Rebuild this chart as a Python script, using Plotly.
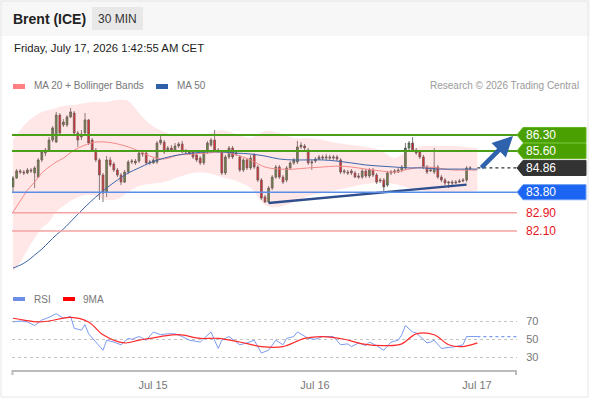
import plotly.graph_objects as go

# --- 30-min candles (index 0 = first bar on screen) ---
opens = [84.03, 84.42, 84.73, 84.68, 84.64, 84.77, 84.64, 84.46, 85.21, 85.51,
         85.64, 86.08, 85.99, 87.17, 86.74, 86.74, 87.09, 87.26, 86.39, 86.21,
         86.39, 86.96, 86.08, 85.64, 85.21, 84.55, 83.81, 85.21, 85.03, 84.77,
         84.55, 84.24, 84.68, 85.12, 85.08, 85.16, 85.51, 85.51, 85.08, 85.08,
         85.12, 85.95, 85.99, 85.64, 85.73, 85.64, 85.82, 85.91, 85.60, 85.56,
         85.56, 85.43, 85.29, 85.08, 85.56, 85.86, 86.08, 85.64, 85.56, 84.64,
         85.34, 85.73, 85.47, 85.34, 84.77, 85.21, 84.86, 85.43, 84.90, 84.33,
         83.59, 83.37, 83.98, 84.46, 84.90, 84.46, 84.33, 84.86, 85.08, 85.12,
         85.78, 85.82, 85.64, 85.08, 85.16, 85.25, 85.34, 85.29, 85.34, 85.29,
         85.34, 85.21, 84.68, 84.68, 84.73, 84.64, 84.51, 84.46, 84.73, 84.51,
         84.77, 84.55, 84.29, 84.33, 84.11, 84.64, 84.68, 84.68, 84.77, 84.86,
         85.73, 85.95, 85.64, 85.56, 85.34, 84.90, 84.73, 84.68, 84.90, 84.46,
         84.33, 84.20, 84.24, 84.20, 84.24, 84.29, 84.33, 84.84]
highs = [84.51, 84.81, 84.81, 84.77, 84.86, 84.86, 84.94, 85.29, 85.64, 85.73,
         86.21, 86.69, 87.31, 87.26, 87.00, 87.17, 87.48, 87.35, 86.48, 86.52,
         87.26, 87.00, 86.17, 85.73, 85.29, 84.64, 85.38, 85.34, 85.12, 84.86,
         84.64, 84.77, 85.21, 85.25, 85.25, 85.60, 85.60, 85.60, 85.21, 85.29,
         86.04, 86.30, 86.08, 85.82, 85.86, 85.95, 85.99, 86.04, 85.69, 85.64,
         85.64, 85.51, 85.38, 85.64, 86.04, 86.17, 86.52, 85.73, 85.64, 85.43,
         85.82, 85.82, 85.60, 85.43, 85.29, 85.29, 85.43, 85.51, 84.99, 84.42,
         83.68, 84.07, 84.55, 84.99, 84.99, 84.55, 84.94, 85.16, 85.29, 86.04,
         85.99, 85.91, 85.73, 85.21, 85.34, 85.43, 85.43, 85.47, 85.43, 85.43,
         85.43, 85.29, 84.81, 84.77, 84.81, 84.73, 84.64, 84.81, 84.81, 84.86,
         84.86, 84.64, 84.42, 84.42, 84.73, 84.77, 84.81, 84.86, 84.99, 85.95,
         86.04, 86.21, 85.73, 85.64, 85.43, 84.99, 84.90, 85.73, 84.99, 84.55,
         84.42, 84.29, 84.33, 84.33, 84.38, 84.42, 84.94, 84.94]
lows = [83.76, 84.38, 84.59, 84.55, 84.59, 84.64, 83.98, 84.42, 85.12, 85.38,
        85.60, 85.99, 85.95, 86.30, 86.65, 86.65, 87.04, 86.34, 85.78, 86.08,
        86.30, 85.86, 85.56, 85.12, 83.46, 83.37, 83.59, 84.90, 84.68, 84.46,
        84.11, 84.20, 84.59, 85.03, 84.99, 85.08, 85.34, 84.99, 84.99, 85.03,
        85.03, 85.86, 85.47, 85.56, 85.56, 85.60, 85.73, 85.51, 85.47, 85.43,
        85.25, 85.12, 84.99, 84.99, 85.47, 85.78, 85.56, 85.51, 84.55, 84.55,
        85.25, 85.25, 85.38, 84.68, 84.68, 84.77, 84.77, 84.81, 84.24, 83.46,
        83.33, 83.33, 83.89, 84.38, 84.38, 84.16, 84.24, 84.77, 84.99, 85.03,
        85.69, 85.64, 84.99, 84.77, 85.08, 85.21, 85.21, 85.21, 85.21, 85.21,
        85.16, 84.59, 84.59, 84.55, 84.55, 84.42, 84.38, 84.38, 84.42, 84.42,
        84.46, 84.16, 84.20, 83.85, 84.03, 84.55, 84.59, 84.64, 84.68, 84.77,
        85.64, 85.56, 85.43, 85.25, 84.81, 84.59, 84.68, 84.59, 84.38, 84.24,
        84.11, 83.98, 84.11, 84.16, 84.20, 84.24, 84.24, 84.77]
closes = [84.42, 84.73, 84.68, 84.64, 84.77, 84.73, 84.86, 85.21, 85.56, 85.64,
          86.08, 86.61, 87.17, 86.39, 86.87, 87.09, 87.31, 86.39, 86.08, 86.34,
          86.96, 85.95, 85.64, 85.21, 84.55, 83.76, 85.21, 84.99, 84.77, 84.55,
          84.24, 84.68, 85.12, 85.16, 85.16, 85.51, 85.47, 85.08, 85.12, 85.21,
          85.95, 86.08, 85.56, 85.73, 85.64, 85.82, 85.91, 85.56, 85.56, 85.51,
          85.34, 85.21, 85.08, 85.56, 85.95, 86.08, 85.64, 85.60, 84.64, 85.34,
          85.73, 85.34, 85.51, 84.77, 85.21, 84.86, 85.29, 84.90, 84.33, 83.54,
          83.37, 83.98, 84.46, 84.90, 84.46, 84.24, 84.86, 85.08, 85.21, 85.78,
          85.86, 85.73, 85.08, 85.12, 85.25, 85.34, 85.29, 85.34, 85.29, 85.34,
          85.25, 84.68, 84.73, 84.64, 84.64, 84.46, 84.46, 84.73, 84.51, 84.77,
          84.55, 84.24, 84.33, 84.03, 84.64, 84.68, 84.73, 84.77, 84.90, 85.73,
          85.95, 85.64, 85.51, 85.34, 84.90, 84.68, 84.77, 84.90, 84.46, 84.33,
          84.20, 84.24, 84.20, 84.24, 84.29, 84.33, 84.86, 84.86]

# --- MA 20 + Bollinger Bands, MA 50 (sampled at bar indices) ---
ind_idx = [0, 2, 4, 6, 8, 10, 12, 14, 17, 20, 23, 26, 29, 32, 35, 38, 42, 46, 50, 54,
           58, 62, 66, 70, 74, 78, 82, 86, 90, 94, 98, 102, 106, 110, 114, 118, 122, 126, 129]
bb_upper = [86.08, 86.52, 86.87, 87.13, 87.31, 87.39, 87.48, 87.57, 87.61, 87.70,
            87.74, 87.74, 87.83, 87.79, 87.26, 86.78, 86.43, 86.26, 86.30, 86.34,
            86.52, 86.34, 86.17, 86.48, 86.39, 86.17, 86.17, 86.08, 85.95, 85.86,
            85.78, 85.64, 85.29, 85.64, 85.82, 85.82, 85.82, 85.78, 85.73]
bb_lower = [80.31, 80.74, 81.27, 81.79, 82.23, 82.49, 82.93, 83.19, 83.50, 83.68,
            83.63, 83.46, 83.50, 83.81, 84.07, 84.16, 84.24, 84.46, 84.64, 84.64,
            84.46, 84.29, 83.98, 83.24, 83.15, 83.37, 83.63, 83.76, 83.89, 84.03,
            84.16, 84.20, 84.16, 83.98, 83.85, 83.81, 83.81, 83.81, 83.85]
ma20 = [82.93, 83.41, 83.89, 84.24, 84.64, 84.90, 85.12, 85.29, 85.64, 85.86,
        85.99, 85.99, 85.91, 85.78, 85.60, 85.38, 85.25, 85.43, 85.47, 85.51,
        85.56, 85.43, 85.21, 84.90, 84.81, 84.81, 84.86, 84.90, 84.94, 84.90,
        84.81, 84.73, 84.68, 84.81, 84.90, 84.86, 84.77, 84.77, 84.77]
ma50 = [80.48, 80.61, 80.79, 81.05, 81.31, 81.62, 81.93, 82.19, 82.67, 83.15,
        83.59, 83.98, 84.33, 84.64, 84.86, 85.08, 85.29, 85.43, 85.51, 85.56,
        85.56, 85.51, 85.47, 85.38, 85.25, 85.21, 85.21, 85.21, 85.16, 85.08,
        84.99, 84.94, 84.90, 84.86, 84.86, 84.81, 84.81, 84.81, 84.81]

# --- RSI and its 9-period MA ---
rsi_idx = [0, 2, 4, 6, 8, 10, 12, 14, 16, 17, 19, 20, 21, 23, 25, 26, 28, 30, 32, 33,
           35, 37, 39, 41, 43, 45, 47, 49, 52, 55, 57, 58, 60, 63, 65, 67, 69, 71, 73, 75,
           76, 78, 79, 82, 84, 86, 89, 91, 93, 94, 96, 98, 99, 101, 103, 105, 107, 108, 109, 111,
           112, 115, 116, 117, 119, 123, 125, 126, 129]
rsi = [69, 70, 69, 65, 71, 74, 78, 73, 75, 62, 60, 66, 56, 47, 38, 49, 47, 44, 51, 50,
       53, 49, 58, 55, 56, 56, 53, 49, 47, 58, 40, 49, 53, 44, 46, 49, 35, 38, 49, 44,
       51, 53, 58, 51, 50, 53, 53, 44, 45, 42, 46, 43, 47, 43, 38, 47, 49, 55, 65, 58,
       57, 46, 47, 49, 40, 42, 44, 53, 53]
ma9_idx = [0, 3, 7, 10, 16, 21, 25, 31, 35, 41, 46, 52, 57, 63, 69, 75, 81, 86, 92, 97,
           104, 108, 112, 117, 121, 125, 129]
rsi_ma9 = [73, 71, 69, 70, 74, 69, 55, 46, 49, 53, 55, 51, 51, 47, 42, 42, 51, 53, 50, 45,
           43, 45, 56, 55, 44, 42, 46]
rsi_levels = [30, 50, 70]

# --- analyst levels, trend line, target arrow ---
res_levels = [86.30, 85.60]
last_price = 84.86
piv_level = 83.80
sup_levels = [82.90, 82.10]
trend_idx = [71, 126]
trend_px = [83.33, 84.13]
arrow_from = (129.7, 84.81)
arrow_to = (138.9, 86.26)

date_ticks = [38.9, 83.9, 128.9]
date_labels = ["Jul 15", "Jul 16", "Jul 17"]

W, H = 590, 400
FONT = "Liberation Sans, Arial, sans-serif"
X_END = 140
GREEN = "#4b9e17"


def px(x):
    return x / W


def py(y):
    return 1 - y / H


def note(text, x, y, size, color, anchor="left"):
    # fixed text placed in page pixels
    return dict(text=text, xref="paper", yref="paper", x=px(x), y=py(y), showarrow=False,
                xanchor=anchor, yanchor="middle", font=dict(size=size, color=color))


bars = list(range(len(closes)))
fig = go.Figure()

fig.add_trace(go.Scatter(x=ind_idx, y=bb_lower, mode="lines", line=dict(width=0, shape="spline"),
                         hoverinfo="skip", showlegend=False))
fig.add_trace(go.Scatter(x=ind_idx, y=bb_upper, mode="lines", line=dict(width=0, shape="spline"),
                         fill="tonexty", fillcolor="rgba(255,120,120,0.18)",
                         hoverinfo="skip", showlegend=False))
fig.add_trace(go.Scatter(x=ind_idx, y=ma20, mode="lines",
                         line=dict(color="#f48a8a", width=1, shape="spline"), showlegend=False))
fig.add_trace(go.Scatter(x=ind_idx, y=ma50, mode="lines",
                         line=dict(color="#3d66aa", width=1, shape="spline"), showlegend=False))

fig.add_trace(go.Candlestick(
    x=bars, open=opens, high=highs, low=lows, close=closes,
    increasing=dict(fillcolor="#3f8f35", line=dict(color="#555555", width=0.8)),
    decreasing=dict(fillcolor="#e3161b", line=dict(color="#555555", width=0.8)),
    showlegend=False,
))

# trend line and last-price dotted extension
fig.add_trace(go.Scatter(x=trend_idx, y=trend_px, mode="lines",
                         line=dict(color="#2f4f8f", width=2.5), showlegend=False))
fig.add_trace(go.Scatter(x=[bars[-1] + 2, X_END], y=[last_price, last_price], mode="lines",
                         line=dict(color="#333333", width=1.2, dash="dot"), showlegend=False))

# RSI panel
fig.add_trace(go.Scatter(x=rsi_idx, y=rsi, mode="lines", xaxis="x2", yaxis="y2",
                         line=dict(color="#7b9cf0", width=1), showlegend=False))
fig.add_trace(go.Scatter(x=[rsi_idx[-1], X_END], y=[rsi[-1], rsi[-1]], mode="lines",
                         xaxis="x2", yaxis="y2",
                         line=dict(color="#7b9cf0", width=1.2, dash="dot"), showlegend=False))
fig.add_trace(go.Scatter(x=ma9_idx, y=rsi_ma9, mode="lines", xaxis="x2", yaxis="y2",
                         line=dict(color="#ff2a2a", width=1.2, shape="spline"), showlegend=False))

shapes = []

# header band and frame
shapes.append(dict(type="rect", xref="paper", yref="paper", x0=0, x1=1, y0=py(36), y1=1,
                   fillcolor="#f7f7f7", line=dict(width=0), layer="below"))
shapes.append(dict(type="rect", xref="paper", yref="paper", x0=px(92), x1=px(143),
                   y0=py(30), y1=py(7), fillcolor="#e8e8e8", line=dict(width=0)))
shapes.append(dict(type="rect", xref="paper", yref="paper", x0=px(1), x1=px(588),
                   y0=py(397), y1=py(1), line=dict(color="#e6e6e6", width=1)))

annotations = [
    note("<b>Brent (ICE)</b>", 11, 19, 14, "#222222"),
    note("30 MIN", 117.5, 19, 12, "#333333", "center"),
    note("Friday, July 17, 2026 1:42:55 AM CET", 12, 48, 11.3, "#222222"),
    note("MA 20 + Bollinger Bands", 32, 86, 10, "#777777"),
    note("MA 50", 175, 86, 10, "#777777"),
    note("Research © 2026 Trading Central", 581, 86, 10, "#9a9a9a", "right"),
    note("RSI", 32, 299, 10, "#777777"),
    note("9MA", 81, 299, 10, "#777777"),
]
for x0, x1, y0, y1, col in [(13, 25, 84, 89, "#ff8080"), (156, 168, 84, 89, "#2f5fa8"),
                            (13, 25, 297, 301, "#6f8fe6"), (63, 75, 297, 301, "#ff0000")]:
    shapes.append(dict(type="rect", xref="paper", yref="paper", x0=px(x0), x1=px(x1),
                       y0=py(y1), y1=py(y0), fillcolor=col, line=dict(width=0)))

# level lines
for lv in res_levels:
    shapes.append(dict(type="line", xref="x", yref="y", x0=-1, x1=X_END, y0=lv, y1=lv,
                       line=dict(color=GREEN, width=2)))
shapes.append(dict(type="line", xref="x", yref="y", x0=-1, x1=X_END, y0=piv_level, y1=piv_level,
                   line=dict(color="#5b8ee8", width=1.5)))
for lv in sup_levels:
    shapes.append(dict(type="line", xref="x", yref="y", x0=-1, x1=X_END, y0=lv, y1=lv,
                       line=dict(color="#f5a3a3", width=1.5)))


def tag(level, fill, border):
    h = 0.33
    path = (f"M {px(517)},{level} L {px(523)},{level + h} L {px(586)},{level + h} "
            f"L {px(586)},{level - h} L {px(523)},{level - h} Z")
    shapes.append(dict(type="path", xref="paper", yref="y", path=path,
                       fillcolor=fill, line=dict(color=border, width=1)))
    annotations.append(dict(text=f"{level:.2f}", xref="paper", yref="y", x=px(524), y=level,
                            showarrow=False, xanchor="left", yanchor="middle",
                            font=dict(size=12, color="white")))


for lv in res_levels:
    tag(lv, "#4aa000", "#62b51f")
tag(last_price, "#333333", "#333333")
tag(piv_level, "#1c64f2", "#6a9cf5")
for lv in sup_levels:
    annotations.append(dict(text=f"{lv:.2f}", xref="paper", yref="y", x=px(524), y=lv,
                            showarrow=False, xanchor="left", yanchor="middle",
                            font=dict(size=12, color="#e8141c")))

# target arrow
annotations.append(dict(x=arrow_to[0], y=arrow_to[1], ax=arrow_from[0], ay=arrow_from[1],
                        xref="x", yref="y", axref="x", ayref="y", text="", showarrow=True,
                        arrowhead=2, arrowsize=0.9, arrowwidth=4.5, arrowcolor="#2e62ad"))

# x axis end ticks
for xe in (12.5, 516):
    shapes.append(dict(type="line", xref="paper", yref="paper", x0=px(xe), x1=px(xe),
                       y0=py(375), y1=py(370), line=dict(color="#bbbbbb", width=2)))

x_dom = [px(12), px(517)]
fig.update_layout(
    width=W, height=H,
    margin=dict(l=0, r=0, t=0, b=0),
    paper_bgcolor="white", plot_bgcolor="rgba(0,0,0,0)",
    font=dict(family=FONT),
    showlegend=False,
    shapes=shapes,
    annotations=annotations,
    xaxis=dict(domain=x_dom, range=[-0.28, X_END], anchor="y", visible=False,
               rangeslider=dict(visible=False), fixedrange=True),
    yaxis=dict(domain=[py(285), py(95)], range=[79.74, 88.05], visible=False),
    xaxis2=dict(domain=x_dom, range=[-0.28, X_END], anchor="y2", matches="x",
                tickvals=date_ticks, ticktext=date_labels, showgrid=False, zeroline=False,
                showline=True, linecolor="#bbbbbb", linewidth=2,
                ticks="outside", ticklen=4, tickcolor="rgba(0,0,0,0)",
                tickfont=dict(size=11, color="#777777")),
    yaxis2=dict(domain=[py(370), py(305)], range=[16.4, 87.5], side="right", anchor="x2",
                tickvals=rsi_levels, showgrid=True, gridcolor="#c4c4c4", griddash="dot",
                gridwidth=1, zeroline=False, showline=False,
                ticks="outside", ticklen=6, tickcolor="rgba(0,0,0,0)",
                tickfont=dict(size=11, color="#777777")),
)

fig.write_html("out.html", config={"displayModeBar": False},
               post_script="document.body.style.margin='0';")
